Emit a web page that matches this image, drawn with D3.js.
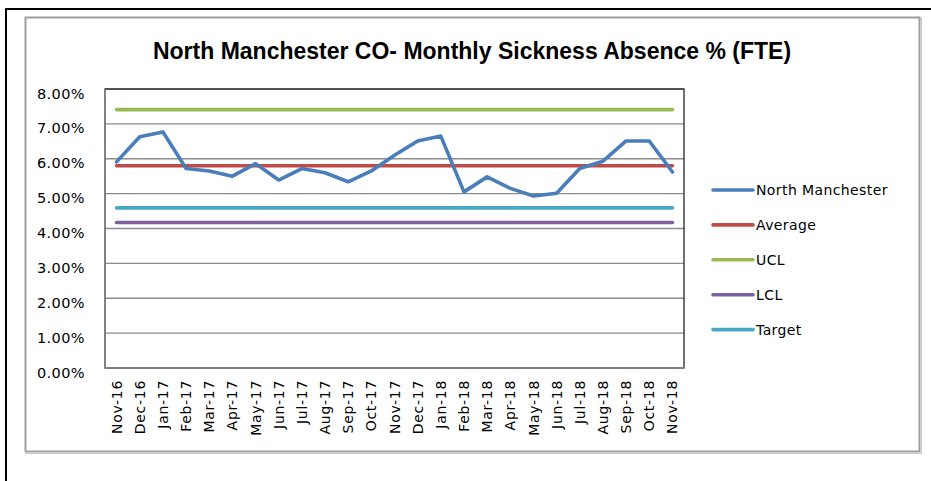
<!DOCTYPE html>
<html>
<head>
<meta charset="utf-8">
<script src="https://cdn.jsdelivr.net/npm/d3@7"></script>
<style>
  body { margin:0; background:#fff; }
  text { font-family:"DejaVu Sans", sans-serif; fill:#000; }
</style>
</head>
<body>
<div id="chart"></div>
<script>
// months along the x axis
const months = ["Nov-16","Dec-16","Jan-17","Feb-17","Mar-17","Apr-17","May-17","Jun-17","Jul-17","Aug-17","Sep-17","Oct-17",
  "Nov-17","Dec-17","Jan-18","Feb-18","Mar-18","Apr-18","May-18","Jun-18","Jul-18","Aug-18","Sep-18","Oct-18","Nov-18"];

// monthly sickness absence (fraction)
const northManchester = [0.0591,0.0663,0.0677,0.0572,0.0565,0.0550,0.0586,0.0539,0.0572,0.0560,0.0534,0.0565,
  0.0610,0.0651,0.0665,0.0505,0.0548,0.0515,0.0493,0.0501,0.0572,0.0593,0.0651,0.0651,0.0562];

const average = 0.0580;
const ucl = 0.0741;
const lcl = 0.0417;
const target = 0.0459;

const yTicks = [0,0.01,0.02,0.03,0.04,0.05,0.06,0.07,0.08];

const seriesNames = ["North Manchester","Average","UCL","LCL","Target"];
const seriesColors = ["#4a7ebb","#be4b48","#98b954","#7d60a0","#46aac5"];

const W = 931, H = 481;
const plot = {left:105, right:684, top:89, bottom:368};

const svg = d3.select("#chart").append("svg")
  .attr("width", W).attr("height", H);

// outer black frame (top + left)
svg.append("line").attr("x1",6).attr("x2",W).attr("y1",9).attr("y2",9)
  .attr("stroke","#000").attr("stroke-width",2);
svg.append("line").attr("x1",6).attr("x2",6).attr("y1",8).attr("y2",H)
  .attr("stroke","#000").attr("stroke-width",2);

// chart frame
svg.append("rect").attr("x",26.5).attr("y",18.5).attr("width",895).attr("height",435)
  .attr("fill","none").attr("stroke","#c8c8c8").attr("stroke-width",1);
svg.append("rect").attr("x",25.5).attr("y",17.5).attr("width",894).attr("height",434)
  .attr("fill","#fff").attr("stroke","#a0a0a0").attr("stroke-width",2);

// title
svg.append("text")
  .attr("x",472).attr("y",59)
  .attr("text-anchor","middle")
  .style("font-family","'Liberation Sans Narrow','Liberation Sans',sans-serif")
  .style("font-weight","bold")
  .style("font-size","23px")
  .text("North Manchester CO- Monthly Sickness Absence % (FTE)");

const x = d3.scaleBand().domain(months).range([plot.left, plot.right]).padding(0);
const y = d3.scaleLinear().domain([0,0.08]).range([plot.bottom, plot.top]);
const cx = d => x(d) + x.bandwidth()/2;

// gridlines
svg.append("g")
  .selectAll("line").data(yTicks).enter().append("line")
  .attr("x1",plot.left).attr("x2",plot.right)
  .attr("y1",d => y(d)).attr("y2",d => y(d))
  .attr("stroke","#8c8c8c").attr("stroke-width",1.3);

// plot border
svg.append("rect").attr("x",plot.left).attr("y",plot.top)
  .attr("width",plot.right-plot.left).attr("height",plot.bottom-plot.top)
  .attr("fill","none").attr("stroke","#262626").attr("stroke-width",1.3);
svg.append("line").attr("x1",plot.left).attr("x2",plot.left).attr("y1",plot.top).attr("y2",plot.bottom)
  .attr("stroke","#8c8c8c").attr("stroke-width",1.3);
svg.append("line").attr("x1",plot.left).attr("x2",plot.right).attr("y1",plot.bottom).attr("y2",plot.bottom)
  .attr("stroke","#8c8c8c").attr("stroke-width",1.3);

// y axis labels
const yAxis = d3.axisLeft(y).tickValues(yTicks).tickFormat(d3.format(".2%")).tickSize(0).tickPadding(20);
const yg = svg.append("g").attr("transform","translate("+plot.left+",0)").call(yAxis);
yg.select(".domain").remove();
yg.selectAll("text")
  .attr("dy","0.62em")
  .style("font-family","'DejaVu Sans',sans-serif")
  .style("font-size","14.5px")
  .style("letter-spacing","0.4px")
  .attr("fill","#000");

// x axis labels (rotated)
svg.append("g")
  .selectAll("text").data(months).enter().append("text")
  .attr("transform", d => "translate("+cx(d)+",380)rotate(-90)")
  .attr("text-anchor","end")
  .attr("dy","0.36em")
  .style("font-size","14px")
  .style("letter-spacing","0.7px")
  .text(d => d);

// constant lines
const flat = [average, ucl, lcl, target];
const line = d3.line().x((d,i) => cx(months[i])).y(d => y(d));
flat.forEach((v,k) => {
  svg.append("path")
    .datum(months.map(() => v))
    .attr("d", line)
    .attr("fill","none")
    .attr("stroke", seriesColors[k+1])
    .attr("stroke-width",3.6)
    .attr("stroke-linecap","round");
});

// main series
svg.append("path")
  .datum(northManchester)
  .attr("d", line)
  .attr("fill","none")
  .attr("stroke", seriesColors[0])
  .attr("stroke-width",3.6)
  .attr("stroke-linejoin","round")
  .attr("stroke-linecap","round");

// legend
const legend = svg.append("g").attr("transform","translate(713,190)");
const row = legend.selectAll("g").data(seriesNames).enter().append("g")
  .attr("transform",(d,i) => "translate(0,"+(i*34.9)+")");
row.append("line").attr("x1",0).attr("x2",40).attr("y1",0).attr("y2",0)
  .attr("stroke",(d,i) => seriesColors[i]).attr("stroke-width",3.6).attr("stroke-linecap","round");
row.append("text").attr("x",43).attr("dy","0.36em")
  .style("font-size","14px")
  .style("letter-spacing","0.4px")
  .text(d => d);
</script>
</body>
</html>
